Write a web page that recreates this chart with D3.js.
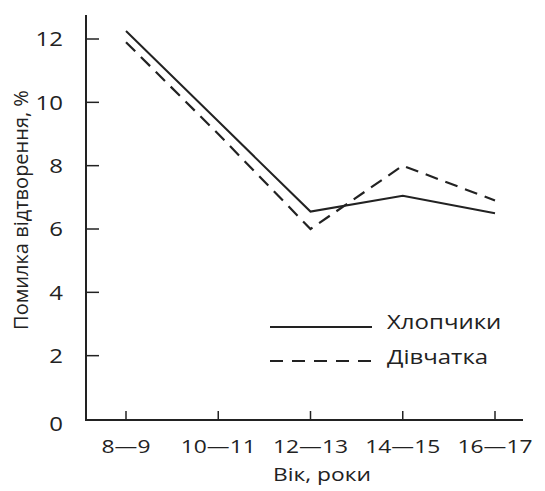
<!DOCTYPE html>
<html>
<head>
<meta charset="utf-8"/>
<title>Помилка відтворення</title>
<script src="https://cdn.jsdelivr.net/npm/d3@7"></script>
<style>
  body { margin: 0; background: #fff; }
  svg text { font-family: "Open Sans", "DejaVu Sans", sans-serif; fill: #222; }
</style>
</head>
<body>
<div id="chart"></div>
<script>
// вікові групи
var ages = ["8—9", "10—11", "12—13", "14—15", "16—17"];
// помилка відтворення, %
var boys = [12.25, 9.4, 6.55, 7.05, 6.5];
var girls = [11.9, 9.0, 6.0, 8.0, 6.9];
var yTicks = [0, 2, 4, 6, 8, 10, 12];
var seriesNames = ["Хлопчики", "Дівчатка"];

var W = 545, H = 491;
var svg = d3.select("#chart").append("svg").attr("width", W).attr("height", H);

var x = d3.scalePoint().domain(ages).range([126, 495]);
var y = d3.scaleLinear().domain([0, 12]).range([419, 39]);

var ink = "#222";
var sx = 1.2; // текст на оригіналі трохи розтягнутий по горизонталі

function wideText(g, tx, ty, str, anchor, size){
  return g.append("text")
    .attr("transform", "translate(" + tx + "," + ty + ") scale(" + sx + ",1)")
    .attr("text-anchor", anchor || "start")
    .attr("dy", "0.36em")
    .style("font-size", (size || 19) + "px")
    .text(str);
}

// осі
svg.append("line").attr("x1", 86).attr("x2", 86).attr("y1", 15).attr("y2", 420)
  .attr("stroke", ink).attr("stroke-width", 2);
svg.append("line").attr("x1", 85).attr("x2", 523).attr("y1", 420).attr("y2", 420)
  .attr("stroke", ink).attr("stroke-width", 2);

// поділки y
svg.selectAll(".yt").data(yTicks.filter(function(d){ return d > 0; })).enter().append("line")
  .attr("x1", 86).attr("x2", 99)
  .attr("y1", function(d){ return y(d); }).attr("y2", function(d){ return y(d); })
  .attr("stroke", ink).attr("stroke-width", 1.5);
yTicks.forEach(function(d){
  wideText(svg, 63, y(d) + (d === 0 ? 5 : 0), d, "end", 20);
});

// поділки x
svg.selectAll(".xt").data(ages).enter().append("line")
  .attr("x1", function(d){ return x(d); }).attr("x2", function(d){ return x(d); })
  .attr("y1", 411).attr("y2", 420)
  .attr("stroke", ink).attr("stroke-width", 1.5);
ages.forEach(function(d){
  wideText(svg, x(d), 446, d, "middle", 19);
});

wideText(svg, 322, 474, "Вік, роки", "middle", 19);
svg.append("text")
  .attr("transform", "translate(21,210) rotate(-90)")
  .attr("dy", "0.36em").attr("text-anchor", "middle")
  .style("font-size", "20px").text("Помилка відтворення, %");

// лінії
var line = d3.line()
  .x(function(d, i){ return x(ages[i]); })
  .y(function(d){ return y(d); });

svg.append("path").datum(boys).attr("d", line)
  .attr("fill", "none").attr("stroke", ink).attr("stroke-width", 2);
svg.append("path").datum(girls).attr("d", line)
  .attr("fill", "none").attr("stroke", ink).attr("stroke-width", 2.2)
  .attr("stroke-dasharray", "13,8");

// легенда
var leg = svg.append("g");
leg.append("line").attr("x1", 270).attr("x2", 372).attr("y1", 327).attr("y2", 327)
  .attr("stroke", ink).attr("stroke-width", 2);
leg.append("line").attr("x1", 270).attr("x2", 372).attr("y1", 361).attr("y2", 361)
  .attr("stroke", ink).attr("stroke-width", 2.2).attr("stroke-dasharray", "13,9");
wideText(leg, 387, 322, seriesNames[0], "start", 20);
wideText(leg, 387, 357, seriesNames[1], "start", 20);
</script>
</body>
</html>
